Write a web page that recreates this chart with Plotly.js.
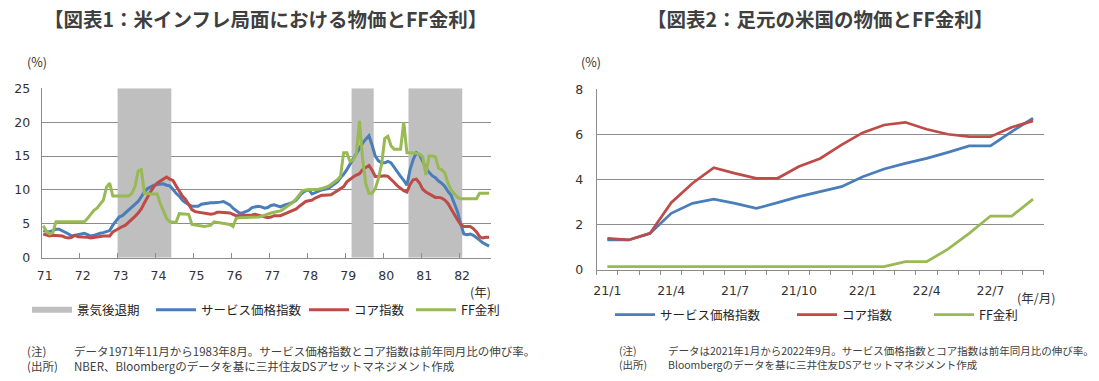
<!DOCTYPE html>
<html><head><meta charset="utf-8">
<script src="https://cdn.plot.ly/plotly-3.0.1.min.js"></script>
<style>html,body{margin:0;padding:0;background:#fff}#chart{width:1099px;height:381px}</style>
</head><body><div id="chart"></div>
<script>
// ===== Chart 1: 1971/11 - 1983/8 (monthly) =====
const startYear1 = 1971, startMonth1 = 11;
const services1 = [
 4.0,3.9,3.8,4.0,4.2,4.2,4.0,3.7,3.5,3.2,
 3.3,3.5,3.6,3.6,3.4,3.2,3.3,3.5,3.6,3.7,
 3.8,4.0,4.8,5.5,6.0,6.2,6.6,7.0,7.4,7.8,
 8.3,9.0,9.7,10.2,10.5,10.7,10.8,10.9,10.9,10.7,
 10.6,10.1,9.5,9.1,8.5,8.1,7.8,7.6,7.6,7.6,
 7.9,8.0,8.0,8.1,8.1,8.1,8.2,8.3,8.1,7.8,
 7.3,6.9,6.6,6.6,6.8,7.0,7.4,7.5,7.6,7.5,
 7.3,7.4,7.7,7.8,7.6,7.5,7.7,7.8,8.0,8.2,
 8.5,9.1,9.6,9.9,10.0,9.4,9.6,9.9,10.0,10.1,
 10.2,10.5,10.8,11.2,11.8,12.3,13.0,13.8,14.4,15.2,
 16.0,16.9,17.5,18.0,16.6,15.0,14.3,14.0,14.0,14.2,
 14.0,13.3,12.8,12.0,11.4,10.7,13.0,14.5,15.5,15.2,
 14.2,13.2,12.6,12.1,11.8,11.3,11.0,10.5,9.8,9.2,
 8.0,6.8,5.0,3.5,3.4,3.5,3.3,3.0,2.6,2.2,
 1.9,1.7];
const core1 = [
 3.5,3.3,3.2,3.3,3.3,3.3,3.2,3.0,2.9,3.0,
 3.3,3.1,3.1,3.0,3.0,2.9,3.0,3.1,3.1,3.2,
 3.2,3.2,3.8,4.1,4.3,4.6,4.8,5.2,5.6,6.1,
 6.6,7.2,8.1,9.0,9.8,10.5,11.0,11.3,11.6,11.9,
 11.6,11.4,10.6,9.8,9.1,8.6,7.9,7.1,6.8,6.7,
 6.7,6.6,6.5,6.4,6.5,6.7,6.7,6.7,6.6,6.6,
 6.4,6.2,6.2,6.2,6.2,6.3,6.3,6.4,6.3,6.2,
 6.1,5.9,6.0,6.2,6.2,6.2,6.4,6.6,6.8,7.0,
 7.2,7.6,8.0,8.3,8.4,8.5,8.8,9.0,9.2,9.2,
 9.2,9.3,9.6,9.9,10.1,10.5,11.2,11.6,11.9,12.2,
 12.4,13.0,13.3,13.6,12.9,12.0,12.0,12.1,12.1,12.0,
 11.6,11.1,10.6,10.2,9.9,9.7,10.8,11.5,11.6,11.0,
 10.1,9.7,9.4,9.1,8.9,8.9,8.8,8.5,8.0,7.2,
 6.3,5.6,4.9,4.6,4.6,4.6,4.3,3.8,3.1,2.9,
 3.0,3.0];
const ff1 = [
 4.7,3.9,3.5,3.7,5.3,5.3,5.3,5.3,5.3,5.3,
 5.3,5.3,5.3,5.3,5.8,6.5,7.0,7.3,7.9,8.5,
 10.4,11.0,9.1,9.1,9.1,9.1,9.1,9.1,9.5,10.5,
 12.8,13.0,9.5,9.4,9.4,9.4,9.4,8.0,6.9,5.8,
 5.3,5.2,5.2,6.5,6.5,6.5,6.4,4.9,4.8,4.7,
 4.7,4.6,4.7,4.8,5.3,5.2,5.2,5.1,5.0,4.9,
 4.6,5.8,5.9,5.9,5.9,5.9,5.9,5.9,6.0,6.1,
 6.3,6.5,6.6,6.7,6.8,6.9,7.2,7.5,7.9,8.2,
 8.7,9.3,9.9,10.0,10.0,10.0,10.0,10.1,10.2,10.3,
 10.5,10.8,11.1,11.5,12.0,15.5,15.5,14.2,14.4,15.3,
 20.2,14.5,10.9,9.5,9.5,10.2,11.7,13.8,17.6,17.9,
 16.5,16.0,16.0,16.0,20.0,15.5,15.5,15.5,15.4,15.3,
 14.9,12.2,15.0,15.0,14.9,13.2,13.0,12.5,11.0,10.0,
 9.5,8.9,8.7,8.7,8.7,8.7,8.7,8.7,9.5,9.5,
 9.5,9.5];
const recessionStart = ["1973-11","1980-01","1981-07"];
const recessionEnd   = ["1975-03","1980-07","1982-11"];
const yearLabels1 = ["71","72","73","74","75","76","77","78","79","80","81","82"];

// ===== Chart 2: 2021/1 - 2022/9 (monthly) =====
const months2 = ["21/1","21/2","21/3","21/4","21/5","21/6","21/7","21/8","21/9","21/10","21/11","21/12",
                 "22/1","22/2","22/3","22/4","22/5","22/6","22/7","22/8","22/9"];
const services2 = [1.33,1.33,1.62,2.51,2.95,3.14,2.95,2.73,2.98,3.25,3.47,3.69,4.13,4.47,4.72,4.94,5.21,5.49,5.49,6.13,6.72];
const core2     = [1.40,1.33,1.62,2.98,3.84,4.53,4.28,4.06,4.06,4.58,4.94,5.54,6.08,6.42,6.54,6.23,6.01,5.90,5.90,6.32,6.60];
const ff2       = [0.15,0.15,0.15,0.15,0.15,0.15,0.15,0.15,0.15,0.15,0.15,0.15,0.15,0.15,0.37,0.37,0.92,1.62,2.39,2.39,3.14];
const tickLabels2 = ["21/1","21/4","21/7","21/10","22/1","22/4","22/7"];

// ===== styles =====
const W = 1099, H = 381;
const BLUE = "#4A7EBB", RED = "#BE4B48", GREEN = "#98B954", GRAYBAND = "#BFBFBF", GRID = "#8C8C8C";
const JP = "'Noto Sans CJK JP', 'Noto Sans', sans-serif";
const NUM = "'DejaVu Sans', 'Noto Sans', sans-serif";
const TXT = "#404040";
const px = x => x / W, py = y => 1 - y / H;

const idx1 = s => { const [y, m] = s.split("-").map(Number); return (y - startYear1) * 12 + (m - startMonth1); };
const x1 = services1.map((_, i) => i);
const x2 = months2.map((_, i) => i);

// recession bands as filled polygons
const recX = [], recY = [];
recessionStart.forEach((s, k) => {
  const a = idx1(s) - 0.5, b = idx1(recessionEnd[k]) + 0.5;
  recX.push(a, a, b, b, a, null);
  recY.push(0, 25, 25, 0, 0, null);
});

const traces = [
  {x: recX, y: recY, type: "scatter", mode: "none", fill: "toself", fillcolor: GRAYBAND,
   name: "景気後退期", xaxis: "x", yaxis: "y", legend: "legend"},
  {x: x1, y: services1, type: "scatter", mode: "lines", line: {color: BLUE, width: 3},
   name: "サービス価格指数", xaxis: "x", yaxis: "y", legend: "legend2"},
  {x: x1, y: core1, type: "scatter", mode: "lines", line: {color: RED, width: 3},
   name: "コア指数", xaxis: "x", yaxis: "y", legend: "legend3"},
  {x: x1, y: ff1, type: "scatter", mode: "lines", line: {color: GREEN, width: 3},
   name: "FF金利", xaxis: "x", yaxis: "y", legend: "legend4"},
  {x: x2, y: services2, type: "scatter", mode: "lines", line: {color: BLUE, width: 2.75},
   name: "サービス価格指数", xaxis: "x2", yaxis: "y2", legend: "legend5"},
  {x: x2, y: core2, type: "scatter", mode: "lines", line: {color: RED, width: 2.75},
   name: "コア指数", xaxis: "x2", yaxis: "y2", legend: "legend6"},
  {x: x2, y: ff2, type: "scatter", mode: "lines", line: {color: GREEN, width: 2.75},
   name: "FF金利", xaxis: "x2", yaxis: "y2", legend: "legend7"}
];

const tickFont = {family: NUM, size: 12.5, color: "#333"};
const legendFont = {family: JP, size: 12.5, color: "#222"};

function ann(text, x, y, opts) {
  return Object.assign({text, x: px(x), y: py(y), xref: "paper", yref: "paper", showarrow: false,
    xanchor: "center", yanchor: "middle", font: {family: JP, size: 11.5, color: TXT}}, opts || {});
}
function leg(x, y) {
  return {orientation: "h", x: px(x), y: py(y), xanchor: "left", yanchor: "middle",
    itemwidth: 40, font: legendFont, bgcolor: "rgba(0,0,0,0)", itemclick: false};
}
const noteL = {family: JP, size: 11.5, color: TXT};
const noteR = {family: JP, size: 10.5, color: TXT};

const layout = {
  width: W, height: H, margin: {l: 0, r: 0, t: 0, b: 0},
  paper_bgcolor: "#fff", plot_bgcolor: "#fff", showlegend: true,
  xaxis: {domain: [px(41.7), px(490.7)], anchor: "y", range: [-0.5, 141.5],
    tickvals: yearLabels1.map((_, k) => -0.5 + 12 * k), ticktext: yearLabels1,
    ticks: "inside", ticklen: 5, tickcolor: GRID, tickwidth: 1,
    showline: true, linecolor: GRID, linewidth: 1, showgrid: false, zeroline: false,
    tickfont: tickFont, ticklabelstandoff: 6, ticklabelshift: 3, fixedrange: true},
  yaxis: {domain: [py(257.7), py(88.3)], anchor: "x", range: [0, 25], dtick: 5, tick0: 0,
    showline: true, linecolor: GRID, linewidth: 1, showgrid: true, gridcolor: GRID, gridwidth: 1,
    zeroline: false, ticks: "", tickfont: tickFont, ticklabelstandoff: 8, fixedrange: true},
  xaxis2: {domain: [px(596.7), px(1043.7)], anchor: "y2", range: [-0.5, 20.5],
    tickvals: tickLabels2.map(t => months2.indexOf(t)), ticktext: tickLabels2,
    ticks: "", showline: true, linecolor: GRID, linewidth: 1, showgrid: false, zeroline: false,
    minor: {ticks: "outside", ticklen: 4, tickcolor: GRID, tickwidth: 1, tick0: -0.5, dtick: 1, showgrid: false},
    tickfont: tickFont, ticklabelstandoff: 9, fixedrange: true},
  yaxis2: {domain: [py(270), py(89.3)], anchor: "x2", range: [0, 8], dtick: 2, tick0: 0,
    showline: true, linecolor: GRID, linewidth: 1, showgrid: true, gridcolor: GRID, gridwidth: 1,
    zeroline: false, ticks: "", tickfont: tickFont, ticklabelstandoff: 10, fixedrange: true},
  legend: leg(27, 310), legend2: leg(151, 310), legend3: leg(304, 310), legend4: leg(411, 310),
  legend5: leg(610, 315), legend6: leg(792, 315), legend7: leg(929, 315),
  annotations: [
    ann("【図表1：米インフレ局面における物価とFF金利】", 265, 19, {font: {family: JP, size: 19.5, color: "#3F3F3F", weight: "bold"}}),
    ann("【図表2：足元の米国の物価とFF金利】", 820, 19, {font: {family: JP, size: 19.5, color: "#3F3F3F", weight: "bold"}}),
    ann("(%)", 37, 62, {font: {family: JP, size: 12.5, color: "#333"}}),
    ann("(%)", 591, 62, {font: {family: JP, size: 12.5, color: "#333"}}),
    ann("(年)", 480, 291, {font: {family: JP, size: 12.5, color: "#333"}}),
    ann("(年/月)", 1036, 297, {font: {family: JP, size: 12.5, color: "#333"}}),
    ann("(注)<br>(出所)", 25, 358.5, {xanchor: "left", align: "left", font: noteL}),
    ann("データ1971年11月から1983年8月。サービス価格指数とコア指数は前年同月比の伸び率。<br>NBER、Bloombergのデータを基に三井住友DSアセットマネジメント作成", 72, 358.5, {xanchor: "left", align: "left", font: noteL}),
    ann("(注)<br>(出所)", 617, 357.5, {xanchor: "left", align: "left", font: noteR}),
    ann("データは2021年1月から2022年9月。サービス価格指数とコア指数は前年同月比の伸び率。<br>Bloombergのデータを基に三井住友DSアセットマネジメント作成", 666, 357.5, {xanchor: "left", align: "left", font: noteR})
  ]
};

Plotly.newPlot("chart", traces, layout, {staticPlot: true, displayModeBar: false});
</script>
</body></html>
